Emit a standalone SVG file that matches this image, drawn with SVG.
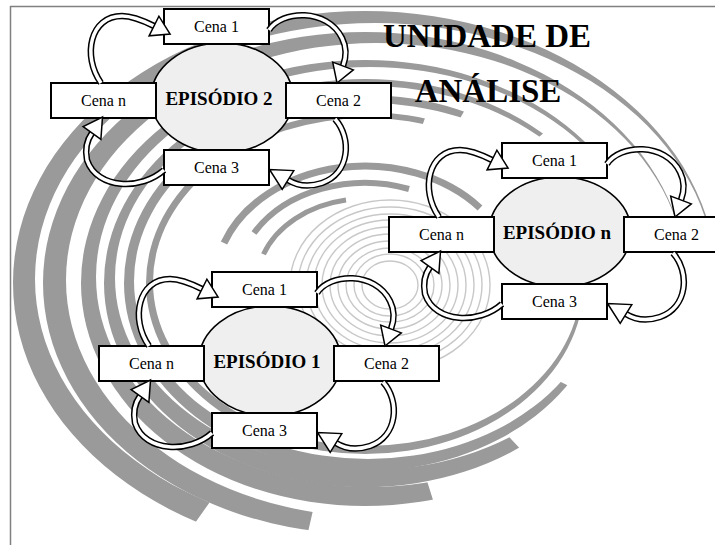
<svg xmlns="http://www.w3.org/2000/svg" xmlns:xlink="http://www.w3.org/1999/xlink" width="715" height="545" viewBox="0 0 715 545">
<style>
.frame{stroke:#808080;stroke-width:1.5;fill:none}
.band{fill:#9a9a9a;fill-rule:evenodd}
.arc{fill:none;stroke:#9a9a9a}
.ring{fill:none;stroke:#c8c8c8;stroke-width:1.4}
.ep{fill:#efefef;stroke:#000;stroke-width:1.6}
.box{fill:#fff;stroke:#000;stroke-width:2}
.lbl{font-family:"Liberation Serif","Times New Roman",serif;font-size:16px;text-anchor:middle;fill:#000}
.eplbl{font-family:"Liberation Serif","Times New Roman",serif;font-size:19px;font-weight:bold;text-anchor:middle;fill:#000}
.title{font-family:"Liberation Serif","Times New Roman",serif;font-size:33px;font-weight:bold;text-anchor:middle;fill:#000}
.ao{fill:none;stroke:#000;stroke-width:6.5}
.ai{fill:none;stroke:#fff;stroke-width:3.5}
.ah{fill:#fff;stroke:#000;stroke-width:1.5;stroke-linejoin:miter}
</style>
<defs>
<clipPath id="cA"><polygon points="365,283 -1369,2731 -2635,283 365,-2717 3320,-237"/></clipPath>
<clipPath id="cB"><polygon points="365,283 -304,3208 -2635,283 365,-2717 3320,-237"/></clipPath>
<clipPath id="cC"><polygon points="365,283 1262,3145 -1399,2710 -2635,283 365,-2717 2963,-1217"/></clipPath>
<clipPath id="cD"><polygon points="365,283 2414,2473 -661,3103 -2635,283 365,-2717 2663,-1646"/></clipPath>
<clipPath id="cE"><polygon points="365,283 3044,1636 -156,3238 -2635,283 365,-2717 1865,-2315"/></clipPath>
<clipPath id="cF"><polygon points="365,283 3353,544 365,3283 -2635,283 365,-2717 1391,-2537"/></clipPath>
<path id="a1" d="M-121 -15 C-140 -42 -132 -82 -100 -82 C-88 -82 -76 -76 -68 -72"/>
<path id="a2" d="M47 -68 C60 -88 105 -90 120 -60 C125 -50 124 -40 121 -32"/>
<path id="a3" d="M113 21 C130 40 128 75 100 85 C85 90 74 87 66 82"/>
<path id="a4" d="M-58 72 C-80 92 -125 92 -135 62 C-137 52 -135 42 -130 35"/>
<polygon id="h1" points="-72.9,-62.2 -63.1,-81.8 -51.9,-64"/>
<polygon id="h2" points="131.3,-28.1 110.7,-35.9 115,-15"/>
<polygon id="h3" points="71.8,72.6 60.2,91.4 47.5,71.5"/>
<polygon id="h4" points="-121.1,41.4 -138.9,28.6 -119.5,19"/>
</defs>

<g id="background">
<line class="frame" x1="10" y1="6.5" x2="715" y2="6.5"/>
<line class="frame" x1="10.5" y1="6" x2="10.5" y2="545"/>
<g id="rings">
<ellipse class="ring" cx="390" cy="285" rx="28" ry="24"/>
<ellipse class="ring" cx="390" cy="285" rx="36" ry="31"/>
<ellipse class="ring" cx="390" cy="285" rx="44" ry="37"/>
<ellipse class="ring" cx="390" cy="285" rx="52" ry="44"/>
<ellipse class="ring" cx="390" cy="285" rx="60" ry="51"/>
<ellipse class="ring" cx="390" cy="285" rx="68" ry="58"/>
<ellipse class="ring" cx="390" cy="285" rx="76" ry="65"/>
<ellipse class="ring" cx="390" cy="285" rx="84" ry="71"/>
<ellipse class="ring" cx="390" cy="285" rx="92" ry="78"/>
<ellipse class="ring" cx="390" cy="285" rx="100" ry="85"/>
</g>
<g id="bands">
<path class="band" clip-path="url(#cA)" d="M13 283a352 272 0 1 0 704 0a352 272 0 1 0 -704 0ZM35 279a340 256 0 1 0 680 0a340 256 0 1 0 -680 0Z"/>
<path class="band" clip-path="url(#cB)" d="M43 283a322 251 0 1 0 644 0a322 251 0 1 0 -644 0ZM66 280a310 237 0 1 0 620 0a310 237 0 1 0 -620 0Z"/>
<path class="band" clip-path="url(#cC)" d="M81 283a284 223 0 1 0 568 0a284 223 0 1 0 -568 0ZM96 277a274 210 0 1 0 548 0a274 210 0 1 0 -548 0Z"/>
<path class="band" clip-path="url(#cD)" d="M104 283a261 204 0 1 0 522 0a261 204 0 1 0 -522 0ZM115 278a253 192 0 1 0 506 0a253 192 0 1 0 -506 0Z"/>
<path class="band" clip-path="url(#cE)" d="M124 283a241 188 0 1 0 482 0a241 188 0 1 0 -482 0ZM134 281a234 178 0 1 0 468 0a234 178 0 1 0 -468 0Z"/>
<path class="band" clip-path="url(#cF)" d="M146 283a219 171 0 1 0 438 0a219 171 0 1 0 -438 0ZM153 282a214 164 0 1 0 428 0a214 164 0 1 0 -428 0Z"/>
<path class="arc" stroke-width="7" d="M224 243 A150 117 0 0 1 480 208"/>
<path class="arc" stroke-width="6" d="M254 233 A128 100 0 0 1 409 189"/>
<path class="arc" stroke-width="5" d="M263.5 254.3 A108 84 0 0 1 346 200"/>
</g>
</g>

<g id="episode-2" transform="translate(222 98)">
<g id="ep2-center"><ellipse class="ep" cx="0" cy="0" rx="71" ry="55"/><text class="eplbl" x="-3" y="7">EPISÓDIO 2</text></g>
<g id="ep2-cena1"><rect class="box" x="-58" y="-89" width="105" height="35"/><text class="lbl" x="-5.5" y="-66">Cena 1</text></g>
<g id="ep2-cenan"><rect class="box" x="-171" y="-15" width="105" height="35"/><text class="lbl" x="-118.5" y="8">Cena n</text></g>
<g id="ep2-cena2"><rect class="box" x="64" y="-15" width="105" height="35"/><text class="lbl" x="116.5" y="8">Cena 2</text></g>
<g id="ep2-cena3"><rect class="box" x="-58" y="52" width="105" height="35"/><text class="lbl" x="-5.5" y="75">Cena 3</text></g>
</g>

<g id="episode-n" transform="translate(560 232)">
<g id="epn-center"><ellipse class="ep" cx="0" cy="0" rx="71" ry="55"/><text class="eplbl" x="-3" y="7">EPISÓDIO n</text></g>
<g id="epn-cena1"><rect class="box" x="-58" y="-89" width="105" height="35"/><text class="lbl" x="-5.5" y="-66">Cena 1</text></g>
<g id="epn-cenan"><rect class="box" x="-171" y="-15" width="105" height="35"/><text class="lbl" x="-118.5" y="8">Cena n</text></g>
<g id="epn-cena2"><rect class="box" x="64" y="-15" width="105" height="35"/><text class="lbl" x="116.5" y="8">Cena 2</text></g>
<g id="epn-cena3"><rect class="box" x="-58" y="52" width="105" height="35"/><text class="lbl" x="-5.5" y="75">Cena 3</text></g>
</g>

<g id="episode-1" transform="translate(270 361)">
<g id="ep1-center"><ellipse class="ep" cx="0" cy="0" rx="71" ry="55"/><text class="eplbl" x="-3" y="7">EPISÓDIO 1</text></g>
<g id="ep1-cena1"><rect class="box" x="-58" y="-89" width="105" height="35"/><text class="lbl" x="-5.5" y="-66">Cena 1</text></g>
<g id="ep1-cenan"><rect class="box" x="-171" y="-15" width="105" height="35"/><text class="lbl" x="-118.5" y="8">Cena n</text></g>
<g id="ep1-cena2"><rect class="box" x="64" y="-15" width="105" height="35"/><text class="lbl" x="116.5" y="8">Cena 2</text></g>
<g id="ep1-cena3"><rect class="box" x="-58" y="52" width="105" height="35"/><text class="lbl" x="-5.5" y="75">Cena 3</text></g>
</g>

<g id="connectors">
<g id="conn-ep2" transform="translate(222 98)">
<use xlink:href="#a1" class="ao"/><use xlink:href="#a1" class="ai"/><use xlink:href="#h1" class="ah"/>
<use xlink:href="#a2" class="ao"/><use xlink:href="#a2" class="ai"/><use xlink:href="#h2" class="ah"/>
<use xlink:href="#a3" class="ao"/><use xlink:href="#a3" class="ai"/><use xlink:href="#h3" class="ah"/>
<use xlink:href="#a4" class="ao"/><use xlink:href="#a4" class="ai"/><use xlink:href="#h4" class="ah"/>
</g>
<g id="conn-epn" transform="translate(560 232)">
<use xlink:href="#a1" class="ao"/><use xlink:href="#a1" class="ai"/><use xlink:href="#h1" class="ah"/>
<use xlink:href="#a2" class="ao"/><use xlink:href="#a2" class="ai"/><use xlink:href="#h2" class="ah"/>
<use xlink:href="#a3" class="ao"/><use xlink:href="#a3" class="ai"/><use xlink:href="#h3" class="ah"/>
<use xlink:href="#a4" class="ao"/><use xlink:href="#a4" class="ai"/><use xlink:href="#h4" class="ah"/>
</g>
<g id="conn-ep1" transform="translate(270 361)">
<use xlink:href="#a1" class="ao"/><use xlink:href="#a1" class="ai"/><use xlink:href="#h1" class="ah"/>
<use xlink:href="#a2" class="ao"/><use xlink:href="#a2" class="ai"/><use xlink:href="#h2" class="ah"/>
<use xlink:href="#a3" class="ao"/><use xlink:href="#a3" class="ai"/><use xlink:href="#h3" class="ah"/>
<use xlink:href="#a4" class="ao"/><use xlink:href="#a4" class="ai"/><use xlink:href="#h4" class="ah"/>
</g>
</g>

<g id="title">
<text class="title" x="487" y="47">UNIDADE DE</text>
<text class="title" x="488" y="102">ANÁLISE</text>
</g>
</svg>
